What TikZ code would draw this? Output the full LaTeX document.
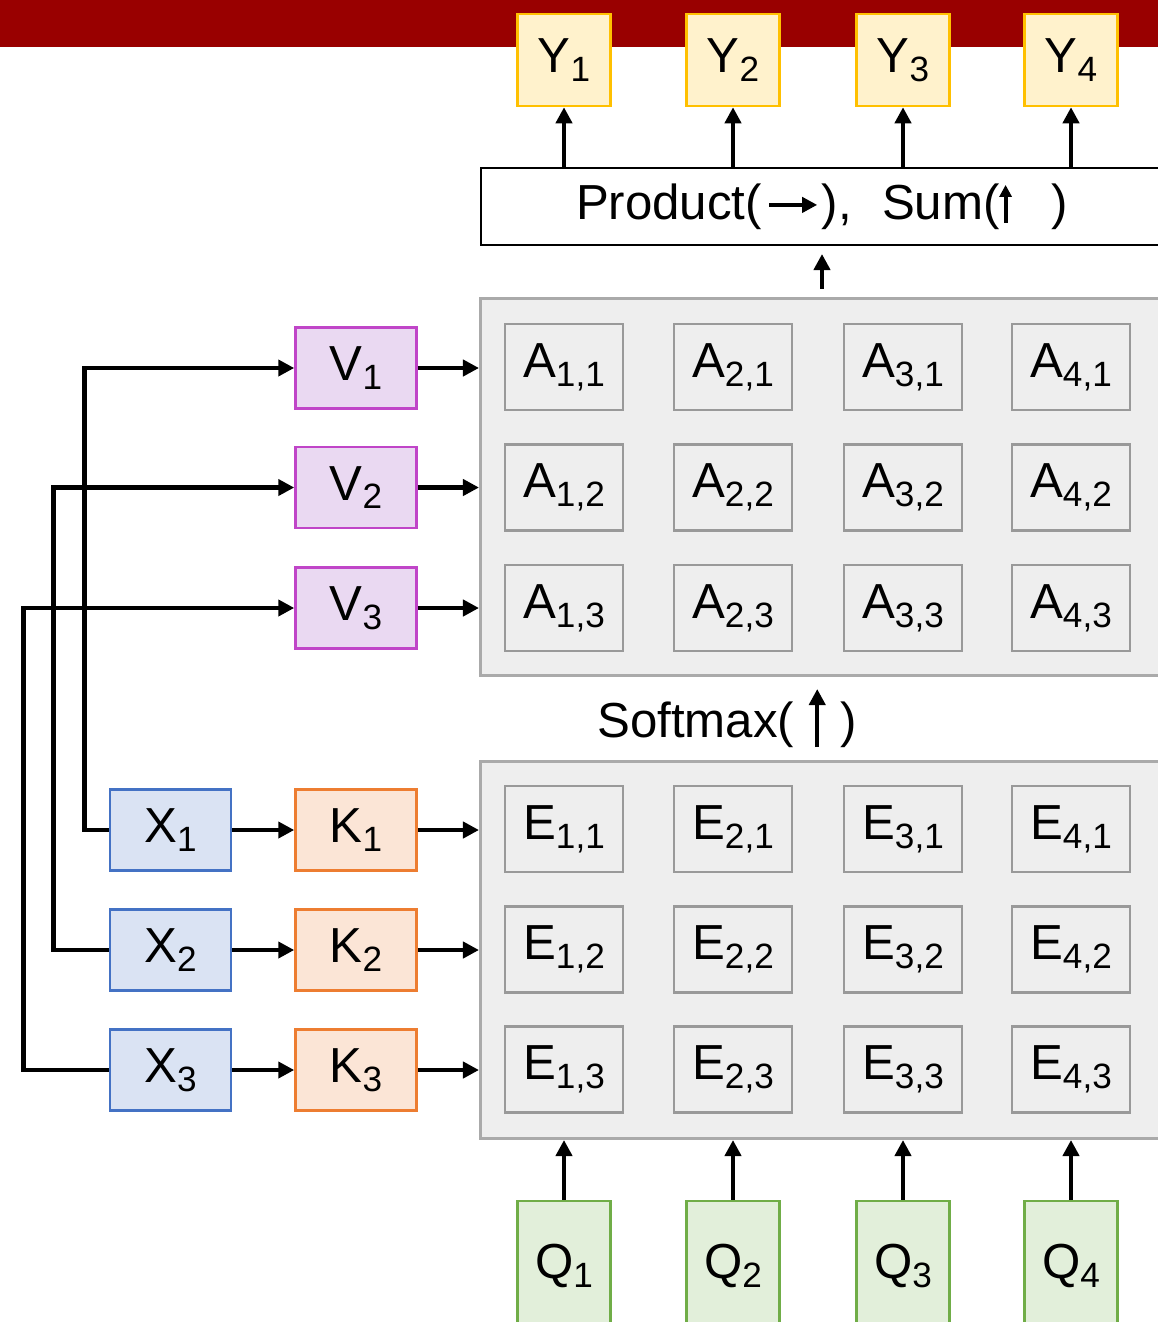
\documentclass[tikz,border=0pt]{standalone}
\usepackage{fontspec}
\setmainfont{Liberation Sans}
\usepackage{xcolor}
\usepackage{tikz}
\usetikzlibrary{arrows.meta,positioning}

\definecolor{barred}{HTML}{990000}
\definecolor{yfill}{HTML}{FFF2CC}
\definecolor{yline}{HTML}{FFC000}
\definecolor{qfill}{HTML}{E2EFDA}
\definecolor{qline}{HTML}{70AD47}
\definecolor{vfill}{HTML}{EAD9F2}
\definecolor{vline}{HTML}{C045C8}
\definecolor{kfill}{HTML}{FBE5D6}
\definecolor{kline}{HTML}{ED7D31}
\definecolor{xfill}{HTML}{DAE3F3}
\definecolor{xline}{HTML}{4472C4}
\definecolor{gridfill}{HTML}{EEEEEE}
\definecolor{gridline}{HTML}{AAAAAA}
\definecolor{cellline}{HTML}{999999}

\newcommand{\sbs}[1]{\raisebox{-5pt}{\fontsize{20}{20}\selectfont #1}}

\begin{document}
\begin{tikzpicture}[x=0.2mm, y=-0.2mm, line width=0.95mm,
    every node/.style={font=\fontsize{28}{32}\selectfont, inner sep=0pt},
    arr/.style={-{Triangle[length=3.2mm,width=3.2mm]}},
    box/.style={draw, line width=0.5mm, minimum width=24.2mm, minimum height=16.2mm},
    vbox/.style={box, draw=vline, fill=vfill},
    kbox/.style={box, draw=kline, fill=kfill},
    xbox/.style={box, draw=xline, fill=xfill},
    ybox/.style={draw=yline, fill=yfill, line width=0.5mm, minimum width=18.6mm, minimum height=18.4mm},
    qbox/.style={draw=qline, fill=qfill, line width=0.5mm, minimum width=18.6mm, minimum height=26mm},
    grid/.style={draw=gridline, fill=gridfill, line width=0.6mm, minimum width=137mm, minimum height=75.4mm},
    cell/.style={draw=cellline, line width=0.5mm, minimum width=23.6mm, minimum height=17.2mm}]
      \useasboundingbox (0,0) rectangle (1158,1322);
      \clip (0,0) rectangle (1158,1322);
      % top bar
      \fill[barred] (0,0) rectangle (1158,47);
      % outputs, combine box
      \node[draw, fill=white, line width=0.4mm, minimum width=136.4mm, minimum height=15.4mm] (prod) at (822,206.5)
        {Product(\hspace{1mm}\tikz[baseline=0pt]\draw[line width=0.9mm,-{Triangle[length=3mm,width=3mm]}] (0,3mm) -- (9.6mm,3mm);\hspace{0.5mm}),\hspace{6mm}Sum(\tikz[baseline=0pt]\draw[line width=0.8mm,-{Triangle[length=2.4mm,width=2.4mm]}] (0,-0.6mm) -- (0,7mm);\hspace{8mm})};
      % attention and score grids
      \node[grid] (agrid) at (823,486.5) {};
      \node[grid] (egrid) at (823,950) {};
      \node[anchor=base] (smax) at (727,737)
        {Softmax(\hspace{3mm}\tikz[baseline=0pt]\draw[line width=0.9mm,-{Triangle[length=3.2mm,width=3.2mm]}] (0,-2mm) -- (0,9.6mm);\hspace{3mm})};
      \foreach \c/\x in {1/564,2/733,3/903,4/1071} {
        \node[ybox] (y\c) at (\x,60) {Y\sbs{\c}};
        \node[qbox] (q\c) at (\x,1266) {Q\sbs{\c}};
        \draw[arr] (prod.north -| y\c) -- (y\c.south);
        \draw[arr] (q\c.north) -- (q\c.north |- egrid.south);
        \foreach \r/\y in {1/367,2/487.5,3/608}
          \node[cell] (a\c\r) at (\x,\y) {A\sbs{\c,\r}};
        \foreach \r/\y in {1/829,2/949.5,3/1069.5}
          \node[cell] (e\c\r) at (\x,\y) {E\sbs{\c,\r}};
      }
      \draw[arr, shorten <=1.6mm, shorten >=1.6mm] (agrid.north -| prod.south) -- (prod.south);
      % inputs, keys, values
      \foreach \r/\y in {1/368,2/487.5,3/608}
        \node[vbox] (v\r) at (356,\y) {V\sbs{\r}};
      \foreach \r/\y in {1/830,2/950,3/1070} {
        \node[kbox] (k\r) at (356,\y) {K\sbs{\r}};
        \node[xbox] (x\r) at (170.5,\y) {X\sbs{\r}};
      }
      \foreach \r in {1,2,3} {
        \draw[arr] (v\r.east) -- (v\r.east -| agrid.west);
        \draw[arr] (x\r) -- (k\r);
        \draw[arr] (k\r.east) -- (k\r.east -| egrid.west);
      }
      \draw[arr] (x1.west) -- ++(-24,0) |- (v1.west);
      \draw[arr] (x2.west) -- ++(-55,0) |- (v2.west);
      \draw[arr] (x3.west) -- ++(-85,0) |- (v3.west);
    \end{tikzpicture}
\end{document}
